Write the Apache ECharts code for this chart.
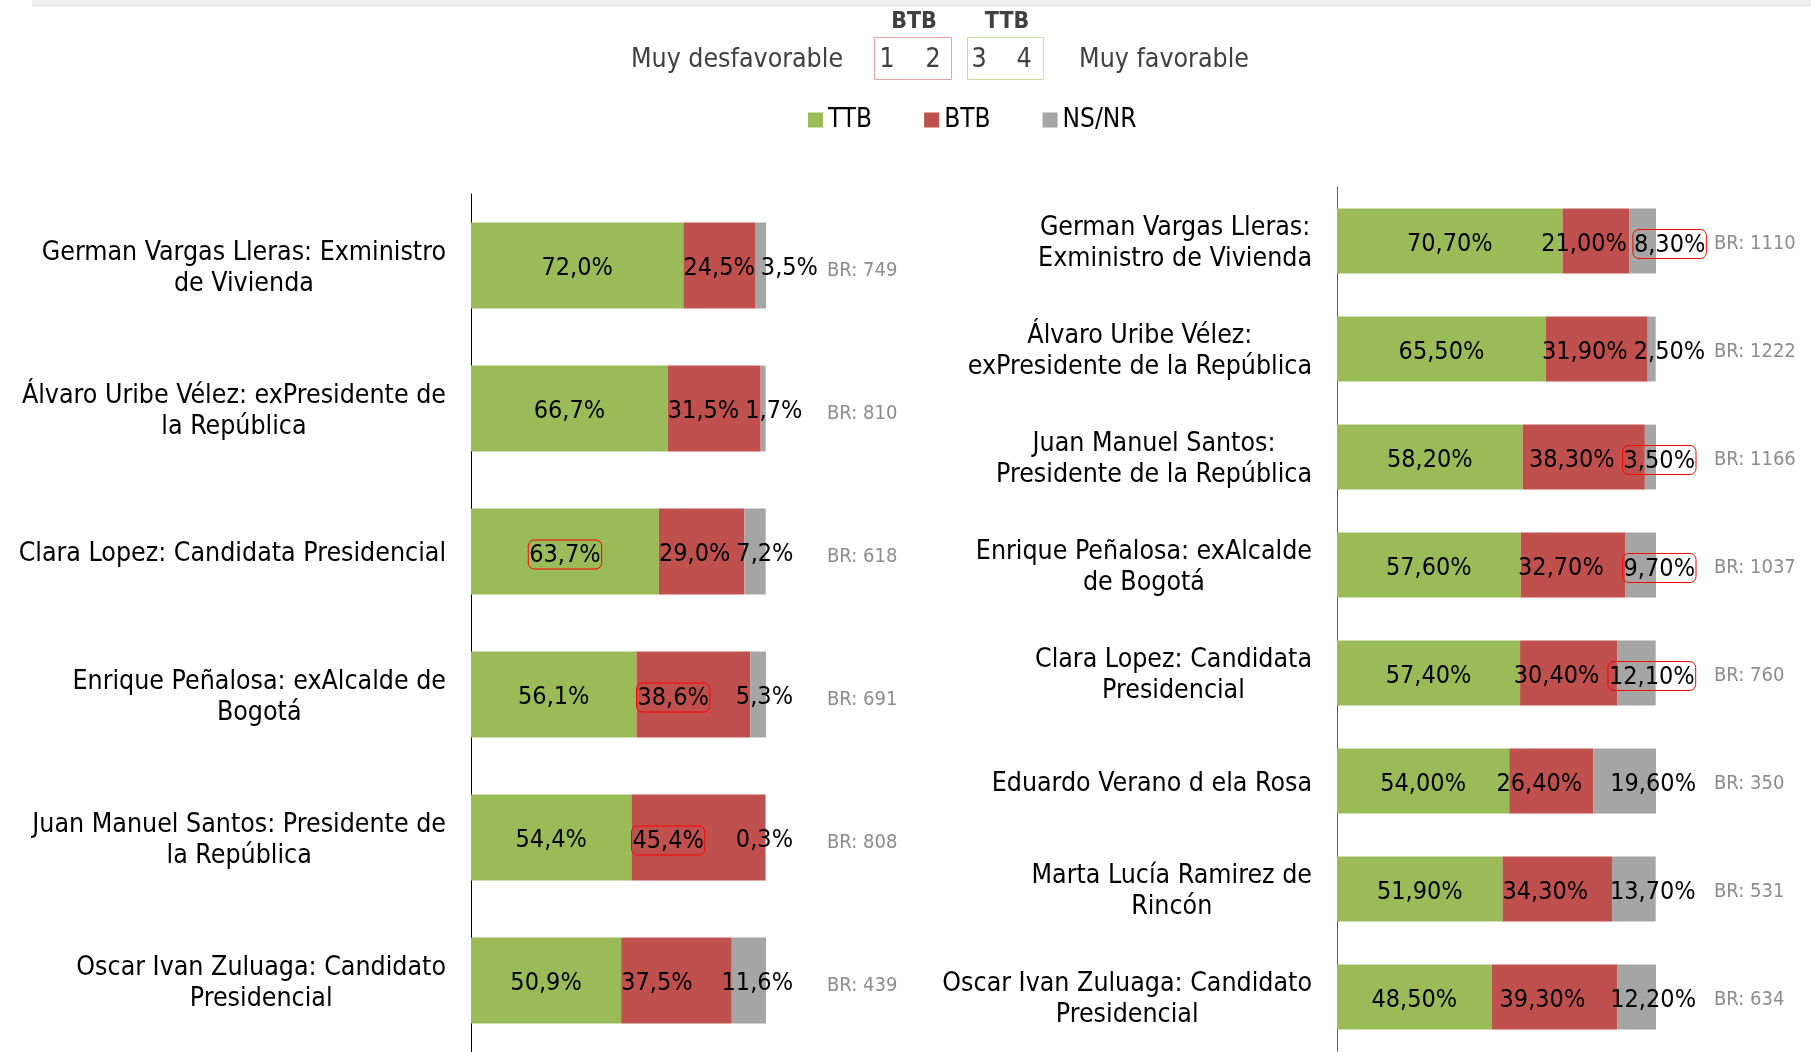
<!DOCTYPE html>
<html lang="es">
  <head>
    <meta charset="UTF-8" />
    <title>Imagen de candidatos - TTB / BTB</title>
    <script src="https://cdn.jsdelivr.net/npm/echarts@6/dist/echarts.min.js"></script>
    <style>
      html, body { margin: 0; padding: 0; background: #fff; }
      #chart { width: 1811px; height: 1052px; }
    </style>
  </head>
  <body>
    <div id="chart"></div>
  </body>
</html>
<script>
  // datos: panel izquierdo
  const leftCategories = [
    "German Vargas Lleras: Exministro\nde Vivienda",
    "Álvaro Uribe Vélez: exPresidente de\nla República",
    "Clara Lopez: Candidata Presidencial",
    "Enrique Peñalosa: exAlcalde de\nBogotá",
    "Juan Manuel Santos: Presidente de\nla República",
    "Oscar Ivan Zuluaga: Candidato\nPresidencial",
  ];
  const leftTTB = [72.0, 66.7, 63.7, 56.1, 54.4, 50.9];
  const leftBTB = [24.5, 31.5, 29.0, 38.6, 45.4, 37.5];
  const leftNSNR = [3.5, 1.7, 7.2, 5.3, 0.3, 11.6];
  const leftBR = [749, 810, 618, 691, 808, 439];

  // datos: panel derecho
  const rightCategories = [
    "German Vargas Lleras:\nExministro de Vivienda",
    "Álvaro Uribe Vélez:\nexPresidente de la República",
    "Juan Manuel Santos:\nPresidente de la República",
    "Enrique Peñalosa: exAlcalde\nde Bogotá",
    "Clara Lopez: Candidata\nPresidencial",
    "Eduardo Verano d ela Rosa",
    "Marta Lucía Ramirez de\nRincón",
    "Oscar Ivan Zuluaga: Candidato\nPresidencial",
  ];
  const rightTTB = [70.7, 65.5, 58.2, 57.6, 57.4, 54.0, 51.9, 48.5];
  const rightBTB = [21.0, 31.9, 38.3, 32.7, 30.4, 26.4, 34.3, 39.3];
  const rightNSNR = [8.3, 2.5, 3.5, 9.7, 12.1, 19.6, 13.7, 12.2];
  const rightBR = [1110, 1222, 1166, 1037, 760, 350, 531, 634];

  // etiquetas resaltadas con recuadro rojo (indice de categoria)
  const leftMarked = { TTB: [2], BTB: [3, 4], "NS/NR": [] };
  const rightMarked = { TTB: [], BTB: [], "NS/NR": [0, 2, 3, 4] };

  const seriesNames = ["TTB", "BTB", "NS/NR"];
  const colors = ["#9BBB59", "#C0504D", "#A5A5A5"];

  const FONT = "'DejaVu Sans Condensed', 'Liberation Sans', sans-serif";
  const VALUE_SIZE = 25;

  const chartDom = document.getElementById("chart");
  const chart = echarts.init(chartDom);

  const measureCtx = document.createElement("canvas").getContext("2d");
  function textWidth(s) {
    measureCtx.font = VALUE_SIZE + "px " + FONT;
    return measureCtx.measureText(s).width;
  }

  function pct(v, dec) {
    return v.toFixed(dec).replace(".", ",") + "%";
  }

  const valueRich = {
    v: { fontSize: VALUE_SIZE, fontFamily: FONT, color: "#000" },
    m: {
      fontSize: VALUE_SIZE,
      fontFamily: FONT,
      color: "#000",
      borderColor: "#ff0000",
      borderWidth: 1,
      borderRadius: 6,
      padding: [3, 1, 1, 1],
    },
  };

  function nameAxis(grid, cats, color) {
    return {
      type: "category",
      gridIndex: grid,
      inverse: true,
      data: cats,
      axisLine: { lineStyle: { color: color, width: 1 } },
      axisTick: { length: 6, lineStyle: { color: color } },
      axisLabel: {
        margin: 25,
        padding: [6, 0, 0, 0],
        // cada linea centrada dentro del bloque
        formatter: (v) => v.split("\n").map((s) => "{c|" + s + "}").join("\n"),
        rich: { c: { align: "center", fontSize: 26.5, lineHeight: 31, fontFamily: FONT, color: "#000" } },
      },
    };
  }

  function brAxis(grid, br, margin, padTop) {
    return {
      type: "category",
      gridIndex: grid,
      position: "right",
      inverse: true,
      data: br.map((n) => "BR: " + n),
      axisLine: { show: false },
      axisTick: { show: false },
      axisLabel: {
        margin: margin,
        formatter: (v) => "{b|" + v + "}",
        rich: { b: { fontSize: 20, fontFamily: FONT, color: "#8c8c8c", padding: [padTop, 0, 0, 0] } },
      },
    };
  }

  // desplazamiento de la etiqueta NS/NR para que no pise la etiqueta BTB
  function greyShifts(values, cfg) {
    const [ttb, btb, ns] = values;
    return ns.map((v, i) => {
      const px = cfg.pxPerPct;
      const redStart = ttb[i] * px;
      const redW = btb[i] * px;
      const tw = textWidth(pct(btb[i], cfg.dec)) + (cfg.marked.BTB.includes(i) ? 2 : 0);
      const redRight =
        cfg.redMode === "inside" ? redStart + redW / 2 + cfg.redShift + tw / 2 : redStart + cfg.redShift + tw;
      const gw = textWidth(pct(v, cfg.dec)) + (cfg.marked["NS/NR"].includes(i) ? 2 : 0);
      const barEnd = (ttb[i] + btb[i] + v) * px;
      const greyLeft = barEnd + cfg.greyShift - gw;
      return cfg.greyShift + Math.max(0, redRight + 6 - greyLeft);
    });
  }

  function makeSeries(values, cfg) {
    const positions = ["inside", cfg.redMode, "insideRight"];
    const offsets = [[0, 3], [cfg.redShift, 3], [cfg.greyShift, 3]];
    const shifts = greyShifts(values, cfg);
    return values.map((vals, k) => ({
      name: seriesNames[k],
      type: "bar",
      stack: cfg.stack,
      xAxisIndex: cfg.axis,
      yAxisIndex: cfg.axis * 2,
      barCategoryGap: "40%",
      data: k === 2 ? vals.map((v, i) => ({ value: v, label: { offset: [shifts[i], 3] } })) : vals,
      itemStyle: { color: colors[k] },
      label: {
        show: true,
        position: positions[k],
        distance: 0,
        offset: offsets[k],
        textBorderWidth: 0,
        formatter: (p) =>
          "{" + (cfg.marked[seriesNames[k]].includes(p.dataIndex) ? "m" : "v") + "|" + pct(p.value, cfg.dec) + "}",
        rich: valueRich,
      },
    }));
  }

  const headFont = (size, bold) => (bold ? "bold " : "") + size + "px " + FONT;

  const option = {
    animation: false,
    textStyle: { fontFamily: FONT },
    legend: {
      data: seriesNames,
      left: 803,
      top: 102,
      icon: "rect",
      itemWidth: 15,
      itemHeight: 15,
      itemGap: 52,
      textStyle: { fontSize: 26, fontFamily: FONT, color: "#000" },
    },
    grid: [
      { left: 471, top: 194, width: 295, bottom: -6 },
      { left: 1337, top: 187, width: 319, bottom: 1 },
    ],
    xAxis: [
      { type: "value", gridIndex: 0, min: 0, max: 100, show: false },
      { type: "value", gridIndex: 1, min: 0, max: 100, show: false },
    ],
    yAxis: [
      nameAxis(0, leftCategories, "#000"),
      brAxis(0, leftBR, 61, 10),
      nameAxis(1, rightCategories, "#595959"),
      brAxis(1, rightBR, 58, 6),
    ],
    series: [
      ...makeSeries([leftTTB, leftBTB, leftNSNR], {
        axis: 0, dec: 1, marked: leftMarked, stack: "left",
        redMode: "insideLeft", redShift: 0, greyShift: 27, pxPerPct: 2.95,
      }),
      ...makeSeries([rightTTB, rightBTB, rightNSNR], {
        axis: 1, dec: 2, marked: rightMarked, stack: "right",
        redMode: "inside", redShift: -12, greyShift: 40, pxPerPct: 3.19,
      }),
    ],
    graphic: [
      { type: "rect", shape: { x: 32, y: 0, width: 1779, height: 7 }, style: { fill: "#ededed" } },
      { type: "text", x: 914, y: 22, style: { text: "BTB", font: headFont(23, true), fill: "#404040", align: "center", verticalAlign: "middle" } },
      { type: "text", x: 1007, y: 22, style: { text: "TTB", font: headFont(23, true), fill: "#404040", align: "center", verticalAlign: "middle" } },
      { type: "text", x: 737, y: 60, style: { text: "Muy desfavorable", font: headFont(26.5), fill: "#404040", align: "center", verticalAlign: "middle" } },
      { type: "rect", shape: { x: 874.5, y: 37.5, width: 77, height: 42 }, style: { fill: "none", stroke: "#e8a0a0", lineWidth: 1 } },
      { type: "text", x: 887, y: 60, style: { text: "1", font: headFont(26.5), fill: "#404040", align: "center", verticalAlign: "middle" } },
      { type: "text", x: 933, y: 60, style: { text: "2", font: headFont(26.5), fill: "#404040", align: "center", verticalAlign: "middle" } },
      { type: "rect", shape: { x: 967.5, y: 37.5, width: 76, height: 42 }, style: { fill: "none", stroke: "#c6dea0", lineWidth: 1 } },
      { type: "text", x: 979, y: 60, style: { text: "3", font: headFont(26.5), fill: "#404040", align: "center", verticalAlign: "middle" } },
      { type: "text", x: 1024, y: 60, style: { text: "4", font: headFont(26.5), fill: "#404040", align: "center", verticalAlign: "middle" } },
      { type: "text", x: 1164, y: 60, style: { text: "Muy favorable", font: headFont(26.5), fill: "#404040", align: "center", verticalAlign: "middle" } },
    ],
  };
  chart.setOption(option);
</script>
